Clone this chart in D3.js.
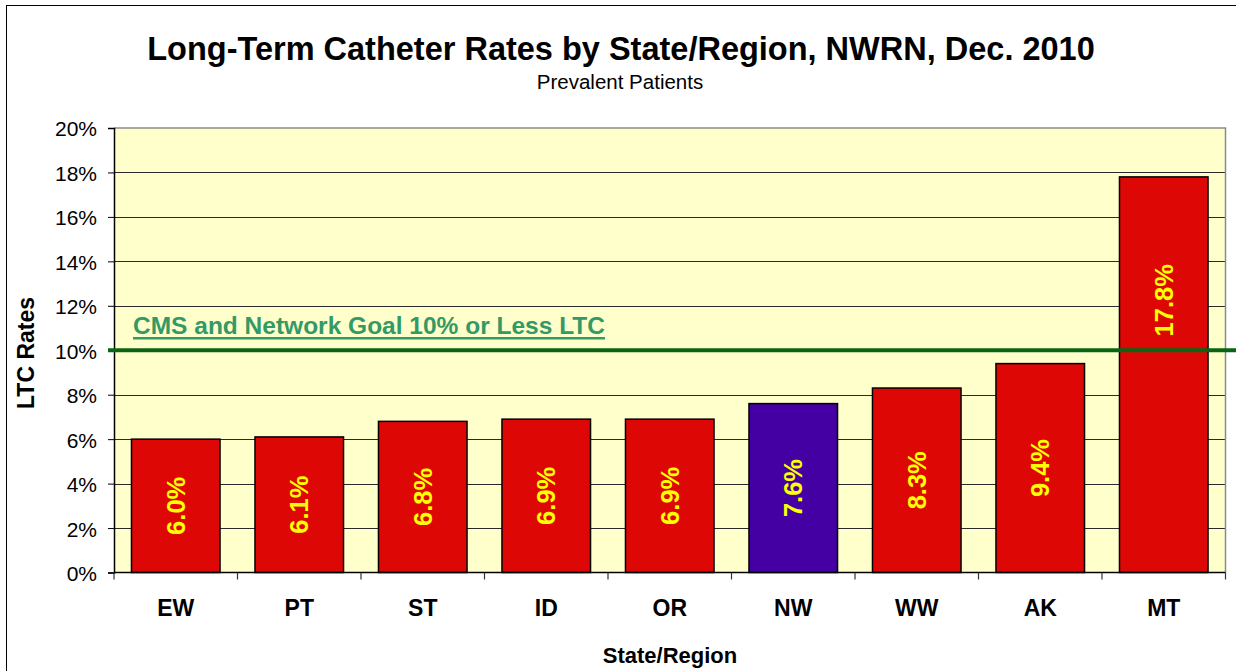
<!DOCTYPE html>
<html>
<head>
<meta charset="utf-8">
<script src="https://cdn.jsdelivr.net/npm/d3@7"></script>
<style>
  html, body { margin: 0; padding: 0; background: #fff; }
  svg { display: block; font-family: "Liberation Sans", Arial, sans-serif; }
</style>
</head>
<body>
<svg id="chart" width="1236" height="671"></svg>
<script>
// values
const regions = ["EW", "PT", "ST", "ID", "OR", "NW", "WW", "AK", "MT"];
const rates = [6.0, 6.1, 6.8, 6.9, 6.9, 7.6, 8.3, 9.4, 17.8];
const highlight = ["NW"];
const yTicks = [0, 2, 4, 6, 8, 10, 12, 14, 16, 18, 20];
const goal = 10;
const goalText = "CMS and Network Goal 10% or Less LTC";

const width = 1236, height = 671;
const margin = { top: 128, right: 10.5, bottom: 98, left: 114 };

const svg = d3.select("#chart");

// outer chart frame (runs off the right / bottom of the picture)
svg.append("rect")
  .attr("x", 6.5).attr("y", 5.5)
  .attr("width", width + 20).attr("height", height + 20)
  .attr("fill", "#fff").attr("stroke", "#000").attr("stroke-width", 1);

const x = d3.scaleBand()
  .domain(regions)
  .range([margin.left, width - margin.right])
  .paddingInner(0.283)
  .paddingOuter(0.1415);

const y = d3.scaleLinear()
  .domain([0, 20])
  .range([height - margin.bottom - 0.5, margin.top]);

const x0 = margin.left, x1 = width - margin.right;

// plot background
svg.append("rect")
  .attr("x", x0).attr("y", y(20))
  .attr("width", x1 - x0).attr("height", y(0) - y(20))
  .attr("fill", "#FFFFCC");

// gridlines
svg.append("g")
  .selectAll("line")
  .data(yTicks.filter(d => d > 0 && d < 20))
  .join("line")
  .attr("x1", x0).attr("x2", x1)
  .attr("y1", d => Math.round(y(d)) + 0.5).attr("y2", d => Math.round(y(d)) + 0.5)
  .attr("stroke", "#2a2a2a").attr("stroke-width", 1);

// top and right border of plot area
svg.append("path")
  .attr("d", `M${x0},${y(20)}H${x1}V${y(0)}`)
  .attr("fill", "none").attr("stroke", "#8a8a8a").attr("stroke-width", 1.5);

// bars
svg.append("g")
  .selectAll("rect")
  .data(regions.map((r, i) => ({ region: r, rate: rates[i] })))
  .join("rect")
  .attr("x", d => x(d.region))
  .attr("y", d => y(d.rate))
  .attr("width", x.bandwidth())
  .attr("height", d => y(0) - y(d.rate))
  .attr("fill", d => highlight.includes(d.region) ? "#4400A2" : "#DD0806")
  .attr("stroke", "#000").attr("stroke-width", 1.5);

// y axis
const yAxis = svg.append("g")
  .attr("transform", `translate(${x0},0)`)
  .call(d3.axisLeft(y).tickValues(yTicks).tickSize(6).tickPadding(11)
    .tickFormat(d => d + "%"));
yAxis.select(".domain").attr("stroke", "#000").attr("stroke-width", 1.5);
yAxis.selectAll(".tick line").attr("stroke", "#000");
yAxis.selectAll(".tick text")
  .attr("font-size", 21).attr("fill", "#000").attr("dy", "0.38em")
  .attr("font-family", "Liberation Sans, Arial, sans-serif");

// x axis baseline + ticks at band boundaries
svg.append("line")
  .attr("x1", x0).attr("x2", x1)
  .attr("y1", y(0)).attr("y2", y(0))
  .attr("stroke", "#000").attr("stroke-width", 1.5);
svg.append("g")
  .selectAll("line")
  .data(d3.range(regions.length + 1))
  .join("line")
  .attr("x1", i => x0 + i * x.step()).attr("x2", i => x0 + i * x.step())
  .attr("y1", y(0)).attr("y2", y(0) + 7)
  .attr("stroke", "#333").attr("stroke-width", 1.2);

svg.append("g")
  .selectAll("text")
  .data(regions)
  .join("text")
  .attr("x", d => x(d) + x.bandwidth() / 2)
  .attr("y", 616)
  .attr("text-anchor", "middle")
  .attr("font-size", 23).attr("font-weight", "bold")
  .text(d => d);

// goal line + label
svg.append("line")
  .attr("x1", x0 - 6).attr("x2", width)
  .attr("y1", y(goal)).attr("y2", y(goal))
  .attr("stroke", "#0A6414").attr("stroke-width", 4);

const gl = svg.append("text")
  .attr("x", 133).attr("y", 334)
  .attr("font-size", 24.5).attr("font-weight", "bold")
  .attr("fill", "#339966")
  .text(goalText);
const glLen = gl.node().getComputedTextLength();
svg.append("rect")
  .attr("x", 133).attr("y", 337)
  .attr("width", glLen).attr("height", 2.5)
  .attr("fill", "#339966");

// value labels, rotated inside the bars
svg.append("g")
  .selectAll("text")
  .data(regions.map((r, i) => ({ region: r, rate: rates[i] })))
  .join("text")
  .attr("transform", d => {
    const cx = x(d.region) + x.bandwidth() / 2;
    // bars above the goal get their label lifted over the goal line
    const cy = d.rate > goal ? y(goal) - 50 : (y(d.rate) + y(0)) / 2;
    return `translate(${cx},${cy}) rotate(-90)`;
  })
  .attr("text-anchor", "middle")
  .attr("dy", "0.36em")
  .attr("font-size", 25.5).attr("font-weight", "bold")
  .attr("fill", "#FFFF00")
  .text(d => d.rate.toFixed(1) + "%");

// titles
svg.append("text")
  .attr("x", 621).attr("y", 60)
  .attr("text-anchor", "middle")
  .attr("font-size", 32.5).attr("font-weight", "bold")
  .text("Long-Term Catheter Rates by State/Region, NWRN, Dec. 2010");

svg.append("text")
  .attr("x", 620).attr("y", 89)
  .attr("text-anchor", "middle")
  .attr("font-size", 20.5)
  .text("Prevalent Patients");

svg.append("text")
  .attr("transform", "translate(34,353) rotate(-90)")
  .attr("text-anchor", "middle")
  .attr("font-size", 23).attr("font-weight", "bold")
  .text("LTC Rates");

svg.append("text")
  .attr("x", 670).attr("y", 663)
  .attr("text-anchor", "middle")
  .attr("font-size", 22).attr("font-weight", "bold")
  .text("State/Region");
</script>
</body>
</html>
